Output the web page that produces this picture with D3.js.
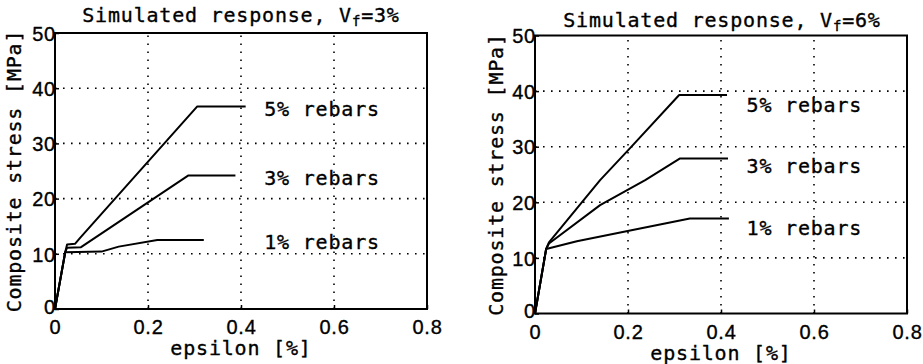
<!DOCTYPE html>
<html>
<head>
<meta charset="utf-8">
<script src="https://cdn.jsdelivr.net/npm/d3@7"></script>
<style>
  body { margin: 0; background: #fff; }
  svg { display: block; font-family: "DejaVu Sans Mono", monospace; }
  .tick-label, .axis-title, .rebar-label, .title {
    font-size: 20px; letter-spacing: 0.8px; fill: #000;
    stroke: #000; stroke-width: 0.35px;
  }
</style>
</head>
<body>
<div id="chart"></div>
<script>
const width = 923;
const height = 364;

const epsTicks = [0, 0.2, 0.4, 0.6, 0.8];
const stressTicks = [0, 10, 20, 30, 40, 50];
const rebarLabels = ["1% rebars", "3% rebars", "5% rebars"];

// Vf = 3%
const left1Eps = [0, 0.022, 0.10, 0.137, 0.22, 0.32];
const left1Stress = [0, 10.3, 10.4, 11.3, 12.5, 12.5];
const left3Eps = [0, 0.022, 0.026, 0.056, 0.287, 0.388];
const left3Stress = [0, 10.3, 11.1, 11.2, 24.2, 24.2];
const left5Eps = [0, 0.022, 0.026, 0.043, 0.054, 0.306, 0.41];
const left5Stress = [0, 10.3, 11.7, 11.8, 12.9, 36.7, 36.7];
const leftLabelStress = [12.2, 23.8, 36.2];

// Vf = 6%
const right1Eps = [0, 0.024, 0.09, 0.226, 0.333, 0.417];
const right1Stress = [0, 11.6, 13.0, 15.3, 17.1, 17.1];
const right3Eps = [0, 0.024, 0.03, 0.14, 0.237, 0.312, 0.415];
const right3Stress = [0, 11.6, 12.6, 19.5, 24, 27.9, 27.9];
const right5Eps = [0, 0.024, 0.03, 0.14, 0.204, 0.31, 0.413];
const right5Stress = [0, 11.6, 12.8, 24, 29.7, 39.3, 39.3];
const rightLabelStress = [15.5, 26.5, 37.5];

const svg = d3.select("#chart").append("svg")
  .attr("width", width)
  .attr("height", height)
  .attr("viewBox", `0 0 ${width} ${height}`);

const panels = [
  {
    vf: "3%",
    x: [55, 427], y: [309, 33],
    titleX: 241, titleY: 22,
    yTitleX: 14,
    series: [[left1Eps, left1Stress], [left3Eps, left3Stress], [left5Eps, left5Stress]],
    labelStress: leftLabelStress, labelEps: 0.45,
  },
  {
    vf: "6%",
    x: [535, 907], y: [313.5, 35.5],
    titleX: 722, titleY: 27,
    yTitleX: 496,
    series: [[right1Eps, right1Stress], [right3Eps, right3Stress], [right5Eps, right5Stress]],
    labelStress: rightLabelStress, labelEps: 0.455,
  },
];

panels.forEach(drawPanel);

function drawPanel(p) {
  const x = d3.scaleLinear().domain([0, 0.8]).range(p.x);
  const y = d3.scaleLinear().domain([0, 50]).range(p.y);
  const g = svg.append("g");

  // dotted grid
  g.append("g").selectAll("line")
    .data(epsTicks.slice(1, -1))
    .join("line")
    .attr("x1", (d) => x(d)).attr("x2", (d) => x(d))
    .attr("y1", y(0)).attr("y2", y(50))
    .attr("stroke", "#000").attr("stroke-width", 1.6)
    .attr("stroke-dasharray", "1.6,6.4");
  g.append("g").selectAll("line")
    .data(stressTicks.slice(1, -1))
    .join("line")
    .attr("x1", x(0)).attr("x2", x(0.8))
    .attr("y1", (d) => y(d)).attr("y2", (d) => y(d))
    .attr("stroke", "#000").attr("stroke-width", 1.6)
    .attr("stroke-dasharray", "1.6,6.4");

  // axes with inward ticks
  const xAxis = g.append("g")
    .attr("transform", `translate(0,${y(0)})`)
    .call(d3.axisBottom(x).tickValues(epsTicks).tickSizeInner(-4).tickSizeOuter(0)
      .tickFormat((d) => (d === 0 ? "0" : d3.format(".1f")(d))));
  const yAxis = g.append("g")
    .attr("transform", `translate(${x(0)},0)`)
    .call(d3.axisLeft(y).tickValues(stressTicks).tickSizeInner(-4).tickSizeOuter(0));
  [xAxis, yAxis].forEach((a) => {
    a.select(".domain").remove();
    a.selectAll(".tick line").attr("stroke", "#000").attr("stroke-width", 1.5);
    a.selectAll(".tick text")
      .attr("class", "tick-label")
      .attr("font-family", null).attr("font-size", null);
  });
  xAxis.selectAll(".tick text").attr("y", 11).attr("dy", "0.71em");
  yAxis.selectAll(".tick text").attr("x", 1).attr("dy", (d) => (d === 0 ? "0.2em" : "0.36em"));

  // frame
  g.append("rect")
    .attr("x", x(0)).attr("y", y(50))
    .attr("width", x(0.8) - x(0)).attr("height", y(0) - y(50))
    .attr("fill", "none").attr("stroke", "#000").attr("stroke-width", 2);

  // curves
  const line = d3.line().x((d) => x(d[0])).y((d) => y(d[1]));
  g.append("g").selectAll("path")
    .data(p.series.map(([es, ss]) => es.map((e, i) => [e, ss[i]])))
    .join("path")
    .attr("d", line)
    .attr("fill", "none")
    .attr("stroke", "#000")
    .attr("stroke-width", 2)
    .attr("stroke-linejoin", "round");

  // curve labels
  g.append("g").selectAll("text")
    .data(rebarLabels)
    .join("text")
    .attr("class", "rebar-label")
    .attr("x", x(p.labelEps))
    .attr("y", (d, i) => y(p.labelStress[i]))
    .attr("dy", "0.36em")
    .text((d) => d);

  // axis titles
  g.append("text")
    .attr("class", "axis-title")
    .attr("x", (x(0) + x(0.8)) / 2)
    .attr("y", y(0) + 46)
    .attr("text-anchor", "middle")
    .text("epsilon [%]");
  g.append("text")
    .attr("class", "axis-title")
    .attr("transform", `translate(${p.yTitleX},${(y(0) + y(50)) / 2}) rotate(-90)`)
    .attr("dy", "0.36em")
    .attr("text-anchor", "middle")
    .text("Composite stress [MPa]");

  const title = g.append("text")
    .attr("class", "title")
    .attr("x", p.titleX)
    .attr("y", p.titleY)
    .attr("text-anchor", "middle");
  title.append("tspan").text("Simulated response, V");
  title.append("tspan").attr("font-size", "14px").attr("dy", 4).text("f");
  title.append("tspan").attr("dy", -4).text("=" + p.vf);
}
</script>
</body>
</html>
